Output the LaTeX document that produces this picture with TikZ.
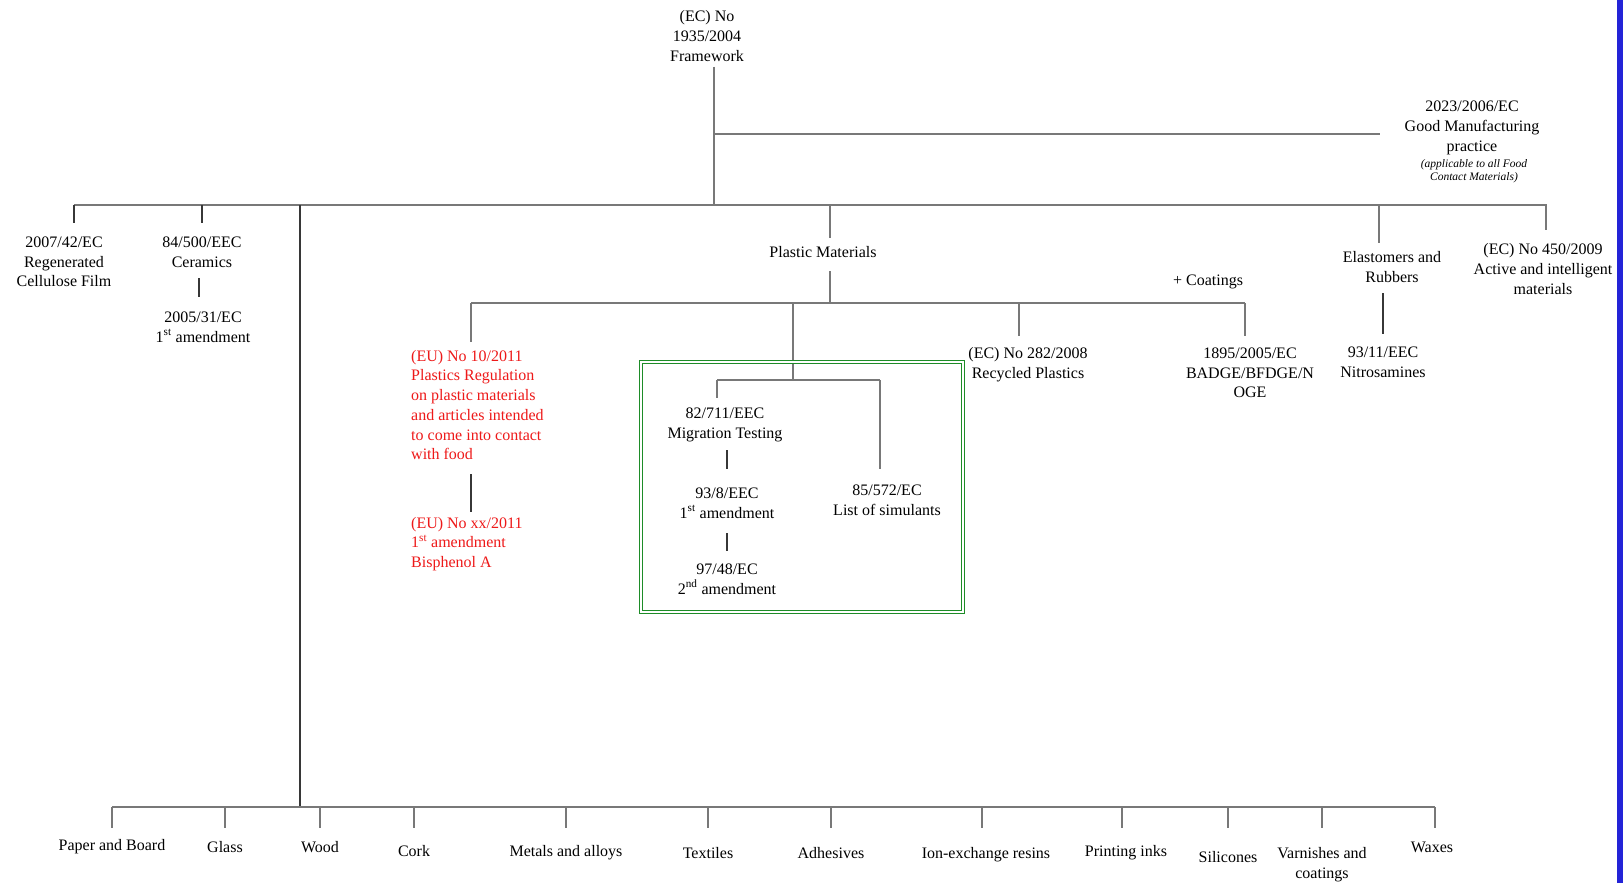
\documentclass[tikz,border=0pt]{standalone}
\usepackage{fontspec}
\setmainfont{Liberation Serif}
\definecolor{wire}{RGB}{120,120,120}
\definecolor{dwire}{RGB}{55,55,55}
\definecolor{boxgreen}{RGB}{30,140,40}
\definecolor{redtxt}{RGB}{238,25,25}
\definecolor{edgeblue}{RGB}{35,35,215}
\newcommand\fsz{\fontsize{16}{19.7}\selectfont}
\newcommand\fsmall{\fontsize{11.5}{13.5}\selectfont\itshape}
\begin{document}
\begin{tikzpicture}[x=1pt,y=-1pt,
  lbl/.style={font=\fsz, align=center, inner sep=0pt},
  redlbl/.style={font=\fsz, align=left, inner sep=0pt, text=redtxt, anchor=west},
  bus/.style={draw=wire, line width=2pt},
  wireline/.style={draw=wire, line width=1.6pt},
  darkline/.style={draw=dwire, line width=1.5pt},
  greenbox/.style={draw=boxgreen, line width=1.1pt, double=white, double distance=2.2pt}]
\useasboundingbox (0,0) rectangle (1623,883);
\fill[white] (0,0) rectangle (1617,883);
\fill[edgeblue] (1617,0) rectangle (1623,883);

% ---- top: framework and GMP
\node[lbl] (fw) at (707,36) {(EC) No\\1935/2004\\Framework};
\node[lbl] (gmp) at (1472,128) {2023/2006/EC\\Good Manufacturing\\practice};
\node[lbl,font=\fsmall] (gmpnote) at (1474,171) {(applicable to all Food\\Contact Materials)};
\coordinate (fwtop) at (714,67);
\coordinate (gmpj) at (714,134);
\coordinate (gmpend) at (1380,134);
\coordinate (busL) at (74,205);
\coordinate (busR) at (1547,205);
\coordinate (fwj) at (714,205);
\draw[wireline] (fwtop) -- (fwj);
\draw[wireline] (gmpj) -- (gmpend);
\draw[bus] (busL) -- (busR);

% ---- left branches
\node[lbl] (rcf) at (64,262) {2007/42/EC\\Regenerated\\Cellulose Film};
\node[lbl] (cer) at (202,252) {84/500/EEC\\Ceramics};
\node[lbl] (cer1) at (203,327) {2005/31/EC\\1\textsuperscript{st} amendment};
\coordinate (cerj) at (202,205);
\coordinate (cerv1) at (199,278);
\coordinate (cerv2) at (199,297);
\draw[darkline] (busL) -- ++(0,18);
\draw[darkline] (cerj) -- ++(0,18);
\draw[darkline] (cerv1) -- (cerv2);

% ---- wood long line and bottom bus
\coordinate (woodtop) at (300,205);
\coordinate (woodbot) at (300,807);
\coordinate (bbL) at (112,807);
\coordinate (bbR) at (1435,807);
\draw[darkline] (woodtop) -- (woodbot);
\draw[bus] (bbL) -- (bbR);
\foreach \nm/\tx/\lx/\ly/\txt in {
  paper/112/112/847/{Paper and Board},
  glass/225/225/847/{Glass},
  wood/320/320/847/{Wood},
  cork/414/414/851/{Cork},
  metals/566/566/853/{Metals and alloys},
  textiles/708/708/853/{Textiles},
  adhesives/831/831/853/{Adhesives},
  ionex/982/986/855/{Ion-exchange resins},
  inks/1122/1126/853/{Printing inks},
  silicones/1228/1228/857/{Silicones},
  varnish/1322/1322/865/{Varnishes and\\coatings},
  waxes/1435/1432/847/{Waxes}}{
  \node[lbl] (\nm) at (\lx,\ly) {\txt};
  \coordinate (\nm j) at (\tx,807);
  \draw[wireline] (\nm j) -- ++(0,21);
}

% ---- plastic materials
\node[lbl] (pm) at (823,252) {Plastic Materials};
\coordinate (pmj) at (830,205);
\coordinate (pbL) at (471,303);
\coordinate (pbR) at (1245,303);
\coordinate (pbj) at (830,303);
\coordinate (boxj) at (793,380);
\coordinate (recj) at (1019,303);
\draw[wireline] (pmj) -- ++(0,33);
\draw[wireline] (pbj) -- ++(0,-32);
\draw[wireline] (pbL) -- (pbR);
\draw[wireline] (pbL) -- ++(0,39);
\draw[wireline] (boxj |- pbL) -- (boxj);
\draw[wireline] (recj) -- ++(0,33);
\draw[wireline] (pbR) -- ++(0,33);
\node[lbl] (coat) at (1208,282) {+ Coatings};

% red regulation
\node[redlbl] (reg) at (411,405) {(EU) No 10/2011\\Plastics Regulation\\on plastic materials\\and articles intended\\to come into contact\\with food};
\node[redlbl] (reg1) at (411,544) {(EU) No xx/2011\\1\textsuperscript{st} amendment\\Bisphenol A};
\coordinate (regv1) at (471,474);
\coordinate (regv2) at (471,512);
\draw[darkline] (regv1) -- (regv2);

% green box
\draw[greenbox] (641,362) rectangle (963,612);
\coordinate (migj) at (717,380);
\coordinate (simj) at (880,380);
\draw[wireline] (migj) -- (simj);
\draw[wireline] (migj) -- ++(0,18);
\draw[wireline] (simj) -- ++(0,89);
\node[lbl] (mig) at (725,425) {82/711/EEC\\Migration Testing};
\node[lbl] (a1) at (727,503) {93/8/EEC\\1\textsuperscript{st} amendment};
\node[lbl] (a2) at (727,579) {97/48/EC\\2\textsuperscript{nd} amendment};
\node[lbl] (sim) at (887,500) {85/572/EC\\List of simulants};
\coordinate (m1) at (727,450);
\coordinate (m2) at (727,469);
\coordinate (m3) at (727,533);
\coordinate (m4) at (727,551);
\draw[darkline] (m1) -- (m2);
\draw[darkline] (m3) -- (m4);

% right side of plastics
\node[lbl] (rec) at (1028,365) {(EC) No 282/2008\\Recycled Plastics};
\node[lbl] (badge) at (1250,373) {1895/2005/EC\\BADGE/BFDGE/N\\OGE};

% elastomers and active
\node[lbl] (ela) at (1392,267) {Elastomers and\\Rubbers};
\node[lbl] (nitro) at (1383,362) {93/11/EEC\\Nitrosamines};
\node[lbl] (act) at (1543,269) {(EC) No 450/2009\\Active and intelligent\\materials};
\coordinate (elaj) at (1379,205);
\coordinate (actj) at (1546,205);
\coordinate (nv1) at (1383,293);
\coordinate (nv2) at (1383,334);
\draw[wireline] (elaj) -- ++(0,38);
\draw[wireline] (actj) -- ++(0,25);
\draw[darkline] (nv1) -- (nv2);
\end{tikzpicture}
\end{document}
